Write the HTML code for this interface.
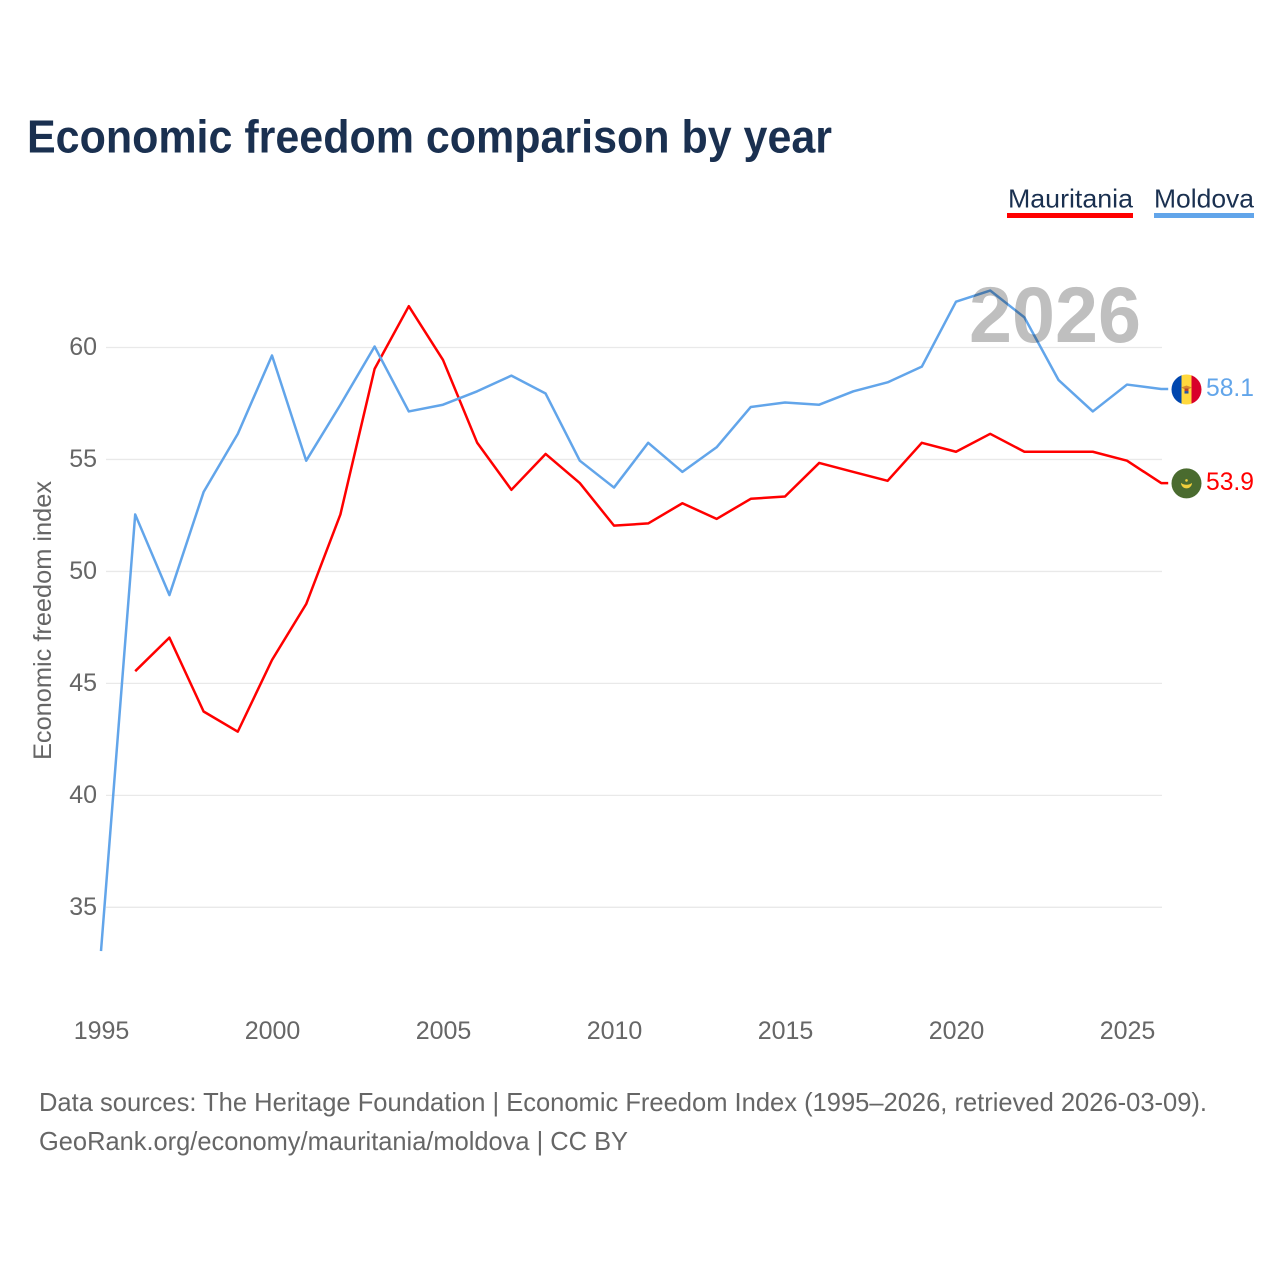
<!DOCTYPE html>
<html lang="en">
<head>
<meta charset="utf-8">
<title>Economic freedom comparison by year</title>
<style>
html,body{margin:0;padding:0;background:#fff;width:1280px;height:1280px;overflow:hidden}
svg{display:block}
text{font-family:"Liberation Sans",Arial,sans-serif}
.tick{font-size:25px;fill:#666}
.foot{font-size:26px;fill:#666}
</style>
</head>
<body>
<svg id="chart" xmlns="http://www.w3.org/2000/svg" width="1280" height="1280" viewBox="0 0 1280 1280">
<rect width="1280" height="1280" fill="#fff"/>
<text x="27" y="152.5" font-size="46" font-weight="700" fill="#1a3050" textLength="805" lengthAdjust="spacingAndGlyphs">Economic freedom comparison by year</text>
<g>
<g>
<text x="1008" y="207.5" font-size="26" fill="#1a3050" textLength="125" lengthAdjust="spacingAndGlyphs">Mauritania</text>
<rect x="1007" y="213" width="126" height="5" fill="#ff0000"/>
</g>
<g>
<text x="1154" y="207.5" font-size="26" fill="#1a3050" textLength="100" lengthAdjust="spacingAndGlyphs">Moldova</text>
<rect x="1154" y="213" width="100" height="5" fill="#62a5ea"/>
</g>
</g>
<g id="grid"></g>
<g id="yticks"></g>
<g id="xticks"></g>
<text transform="translate(51,760) rotate(-90)" font-size="25" fill="#666" textLength="279" lengthAdjust="spacingAndGlyphs">Economic freedom index</text>
<g id="series" transform="translate(-0.5,-1)"></g>
<text x="969" y="342" font-size="79" font-weight="700" fill="#bfbfbf" textLength="172" lengthAdjust="spacingAndGlyphs" style="mix-blend-mode:multiply">2026</text>
<g id="ends"></g>
<text class="foot" x="39" y="1111" textLength="1168" lengthAdjust="spacingAndGlyphs">Data sources: The Heritage Foundation | Economic Freedom Index (1995–2026, retrieved 2026-03-09).</text>
<text class="foot" x="39" y="1150" textLength="589" lengthAdjust="spacingAndGlyphs">GeoRank.org/economy/mauritania/moldova | CC BY</text>
</svg>
<script>
const years = [1995,1996,1997,1998,1999,2000,2001,2002,2003,2004,2005,2006,2007,2008,2009,2010,2011,2012,2013,2014,2015,2016,2017,2018,2019,2020,2021,2022,2023,2024,2025,2026];
const moldova = [33.0,52.5,48.9,53.5,56.1,59.6,54.9,57.4,60.0,57.1,57.4,58.0,58.7,57.9,54.9,53.7,55.7,54.4,55.5,57.3,57.5,57.4,58.0,58.4,59.1,62.0,62.5,61.3,58.5,57.1,58.3,58.1];
const mauritania = [null,45.5,47.0,43.7,42.8,46.0,48.5,52.5,59.0,61.8,59.4,55.7,53.6,55.2,53.9,52.0,52.1,53.0,52.3,53.2,53.3,54.8,54.4,54.0,55.7,55.3,56.1,55.3,55.3,55.3,54.9,53.9];
const xTickLabels = [1995,2000,2005,2010,2015,2020,2025];
const yTickLabels = [35,40,45,50,55,60];

const NS = 'http://www.w3.org/2000/svg';
function xScale(year){ return 101.5 + (year - 1995) * (1127.5 - 101.5) / 30; }
function yScale(v){ return 907.3 - (v - 35) * (907.3 - 347.5) / 25; }
function make(tag, parent, attrs, txt){
  const el = document.createElementNS(NS, tag);
  for (const k in attrs) el.setAttribute(k, attrs[k]);
  if (txt !== undefined) el.textContent = txt;
  parent.appendChild(el);
  return el;
}
const gridG = document.getElementById('grid');
const yG = document.getElementById('yticks');
const xG = document.getElementById('xticks');
const seriesG = document.getElementById('series');
const endsG = document.getElementById('ends');

yTickLabels.forEach(function(v){
  const line = make('line', gridG, {x1:106, x2:1162, y1:yScale(v), y2:yScale(v), stroke:'#e9e9e9', 'stroke-width':1.3});
  
  
  const t = make('text', yG, {class:'tick', x:97, y:yScale(v)+7.7, 'text-anchor':'end'}, String(v));
  
  
});
xTickLabels.forEach(function(y){
  const t = make('text', xG, {class:'tick', x:xScale(y), y:1039, 'text-anchor':'middle'}, String(y));
  
  
});
function linePath(vals){
  let d = '';
  vals.forEach(function(v, i){
    if (v === null) return;
    d += (d ? 'L' : 'M') + xScale(years[i]).toFixed(2) + ' ' + yScale(v).toFixed(2);
  });
  const last = vals[vals.length - 1];
  d += 'L' + (xScale(years[years.length - 1]) + 7).toFixed(2) + ' ' + yScale(last).toFixed(2);
  return d;
}
const redLine = make('path', seriesG, {d:linePath(mauritania), fill:'none', stroke:'#ff0000', 'stroke-width':2.5, 'stroke-linejoin':'round'});


const blueLine = make('path', seriesG, {d:linePath(moldova), fill:'none', stroke:'#62a5ea', 'stroke-width':2.5, 'stroke-linejoin':'round'});



const defs = make('defs', endsG, {});
const clip = make('clipPath', defs, {id:'md-clip'});
const mdY = yScale(moldova[moldova.length - 1]) - 0.5;
const mrY = yScale(mauritania[mauritania.length - 1]) - 0.7;
make('circle', clip, {cx:1186.5, cy:mdY, r:15});

const md = make('g', endsG, {'clip-path':'url(#md-clip)'});


make('rect', md, {x:1171, y:mdY-16, width:11, height:32, fill:'#0046ae'});
make('rect', md, {x:1181.5, y:mdY-16, width:10, height:32, fill:'#ffd83d'});
make('rect', md, {x:1191.5, y:mdY-16, width:11, height:32, fill:'#d8002a'});
make('path', md, {d:'M1181 '+(mdY-2)+'L1186.5 '+(mdY-4)+'L1192 '+(mdY-2)+'L1189 '+(mdY-0.5)+'L1184 '+(mdY-0.5)+'Z', fill:'#d98a2e'});
make('rect', md, {x:1184.5, y:mdY-1, width:4, height:2.5, fill:'#b5402e'});
make('rect', md, {x:1184.5, y:mdY+1.5, width:4, height:2.5, fill:'#2a55a0'});

const mr = make('g', endsG, {});


make('circle', mr, {cx:1186.5, cy:mrY, r:15, fill:'#4a6b2f'});
make('path', mr, {d:'M1181 '+(mrY-0.5)+'A5.5 5.5 0 0 0 1192 '+(mrY-0.5)+'A6.5 4 0 0 1 1181 '+(mrY-0.5)+'Z', fill:'#f0cf3c'});
make('circle', mr, {cx:1186.5, cy:mrY-3, r:1.3, fill:'#f0cf3c'});

const mdLabel = make('text', endsG, {x:1206, y:yScale(moldova[moldova.length - 1])+6, 'font-size':25, fill:'#62a5ea', textLength:48, lengthAdjust:'spacingAndGlyphs'}, moldova[moldova.length - 1].toFixed(1));


const mrLabel = make('text', endsG, {x:1206, y:yScale(mauritania[mauritania.length - 1])+6, 'font-size':25, fill:'#ff0000', textLength:48, lengthAdjust:'spacingAndGlyphs'}, mauritania[mauritania.length - 1].toFixed(1));


</script>
</body>
</html>
